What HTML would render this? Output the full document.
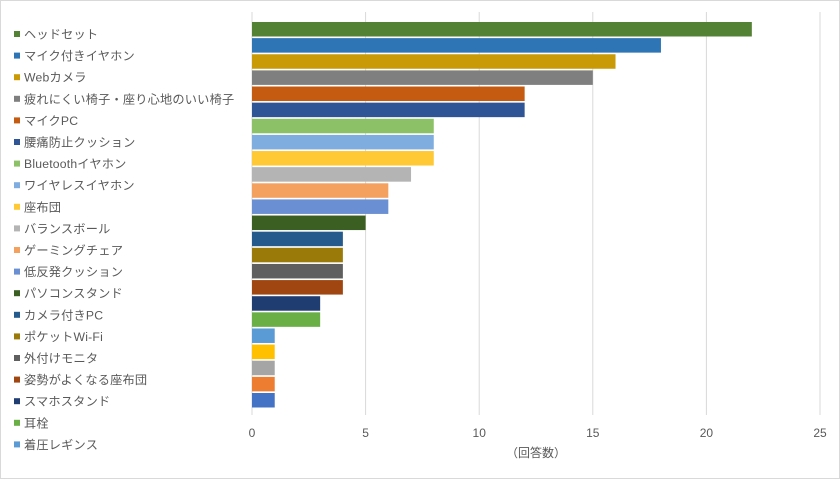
<!DOCTYPE html>
<html><head><meta charset="utf-8"><style>
html,body{margin:0;padding:0;background:#fff}
#wrap{position:relative;width:838px;height:477px;border:1px solid #d9d9d9;overflow:hidden;font-family:"Liberation Sans","Noto Sans CJK JP",sans-serif;color:#595959}
svg text{font-family:"Liberation Sans","Noto Sans CJK JP",sans-serif}
</style></head><body>
<div id="wrap">
<svg id="chart" width="838" height="477"></svg>
</div>
<script>
const categories=["ヘッドセット","マイク付きイヤホン","Webカメラ","疲れにくい椅子・座り心地のいい椅子","マイクPC","腰痛防止クッション","Bluetoothイヤホン","ワイヤレスイヤホン","座布団","バランスボール","ゲーミングチェア","低反発クッション","パソコンスタンド","カメラ付きPC","ポケットWi-Fi","外付けモニタ","姿勢がよくなる座布団","スマホスタンド","耳栓","着圧レギンス","その他A","その他B","その他C","その他D"];
const values=[22,18,16,15,12,12,8,8,8,7,6,6,5,4,4,4,4,3,3,1,1,1,1,1];
const ticks=[0,5,10,15,20,25];
const legendCount=20;
const colors=["#548235","#2E75B6","#C99A06","#7F7F7F","#C55A11","#2F5597","#8CC168","#7FADE0","#FFC935","#B4B4B4","#F4A160","#6A8FD2","#3B5E22","#245A8C","#9A7B0A","#5F5F5F","#A04610","#203D72","#6AAF45","#5B9BD5","#FFC000","#A5A5A5","#ED7D31","#4472C4"];
const NS="http://www.w3.org/2000/svg";
const svg=document.getElementById('chart');
const x0=251,x1=819,yTop=11,yBot=414;
const xs=v=>x0+(v/25)*(x1-x0);
const barTop=21,pitch=16.13,barH=14.5;
const ys=i=>barTop+i*pitch;
function mk(t,a){const e=document.createElementNS(NS,t);for(const k in a)e.setAttribute(k,a[k]);svg.appendChild(e);return e;}
ticks.forEach(t=>{
 const l=mk('line',{x1:xs(t),x2:xs(t),y1:yTop,y2:yBot,stroke:'#d9d9d9','stroke-width':1});
 
 
 const tx=mk('text',{x:xs(t),y:436,'text-anchor':'middle','font-size':12,fill:'#595959'});
 tx.textContent=t;
 
 
});
values.forEach((v,i)=>{
 const r=mk('rect',{x:xs(0),y:ys(i),width:xs(v)-xs(0),height:barH,fill:colors[i%colors.length]});
 
 
});
const at=mk('text',{x:535,y:456,'text-anchor':'middle','font-size':12,fill:'#595959'});
at.textContent='（回答数）';


for(let i=0;i<legendCount;i++){
 const y=33+i*21.6;
 const m=mk('rect',{x:13,y:y-3,width:6,height:6,fill:colors[i]});
 
 
 const t=mk('text',{x:23,y:y+4.5,'font-size':12.2,fill:'#595959','letter-spacing':'0.2'});
 t.textContent=categories[i];
 
 
}
</script>
</body></html>
